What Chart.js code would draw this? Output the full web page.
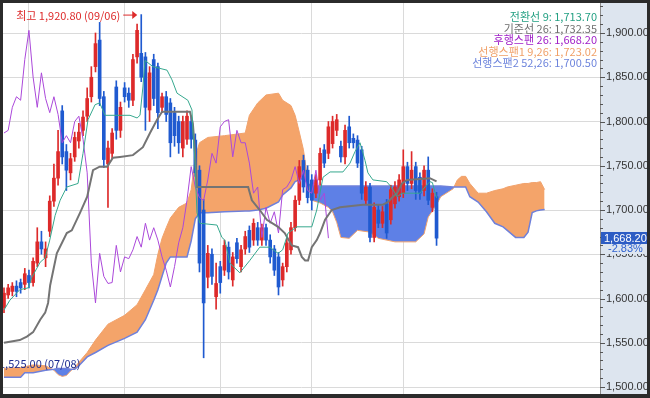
<!DOCTYPE html>
<html>
<head>
<meta charset="utf-8">
<script src="https://cdn.jsdelivr.net/npm/chart.js@4.4.1/dist/chart.umd.min.js"></script>
<style>
  html, body { margin: 0; padding: 0; width: 650px; height: 398px; overflow: hidden; background: #2b2b2b; }
  #wrap { position: absolute; left: 3px; top: 3px; width: 644px; height: 391px; background: #fff; }
</style>
</head>
<body>
<div id="wrap"><canvas id="ichimoku"></canvas></div>
<script>
// daily candles (index 0 = first visible session)
const opens = [1590,1604,1608,1614,1618,1616,1626,1618,1640,1664, 1646,1676,1710,1736,1812,1766,1742,1760,1778,1790,
  1806,1828,1862,1892,1828,1752,1764,1839,1790,1838, 1832,1824,1873,1877,1873,1813,1870,1862,1816,1828,
  1821,1810,1800,1770,1780,1800,1779,1745,1700,1624, 1650,1602,1636,1632,1658,1621,1663,1636,1656,1677,
  1666,1680,1666,1680,1666,1656,1647,1621,1636,1655, 1680,1711,1756,1745,1734,1719,1734,1768,1764,1775,
  1790,1772,1760,1794,1781,1779,1768,1711,1726,1669, 1700,1685,1707,1689,1707,1715,1719,1749,1730,1749,
  1737,1722,1745,1703,1715];
const highs = [1612,1616,1618,1620,1622,1634,1632,1646,1680,1676, 1664,1716,1752,1790,1818,1774,1764,1788,1798,1812,
  1838,1862,1900,1912,1834,1778,1792,1846,1822,1844, 1838,1876,1910,1920.8,1878,1862,1876,1866,1832,1834,
  1826,1816,1806,1806,1812,1806,1786,1750,1712,1660, 1656,1640,1642,1666,1664,1652,1668,1660,1676,1682,
  1690,1686,1684,1684,1672,1660,1652,1640,1668,1686, 1716,1756,1762,1750,1740,1740,1770,1774,1800,1806,
  1808,1778,1796,1806,1786,1784,1772,1732,1730,1708, 1706,1704,1712,1728,1732,1740,1768,1754,1766,1754,
  1742,1750,1760,1724,1720];
const lows = [1584,1600,1603,1602,1606,1610,1612,1614,1636,1650, 1636,1670,1704,1728,1752,1722,1734,1755,1770,1784,
  1800,1822,1856,1818,1748,1703,1758,1780,1782,1822, 1816,1818,1866,1845,1790,1800,1818,1792,1810,1800,
  1760,1772,1764,1760,1774,1770,1738,1630,1533,1612, 1616,1588,1606,1626,1622,1614,1640,1630,1650,1652,
  1660,1660,1660,1660,1640,1626,1604,1614,1630,1650, 1676,1706,1720,1708,1700,1714,1728,1748,1758,1770,
  1784,1754,1752,1770,1770,1748,1712,1706,1664,1664, 1680,1680,1668,1684,1702,1710,1714,1722,1724,1712,
  1712,1716,1706,1698,1660];
const closes = [1606,1612,1614,1608,1612,1628,1618,1642,1664,1656, 1656,1710,1736,1766,1760,1745,1758,1782,1788,1805,
  1826,1850,1888,1826,1757,1770,1787,1790,1816,1828, 1824,1870,1903,1850,1816,1855,1826,1810,1828,1808,
  1776,1784,1776,1800,1806,1780,1742,1640,1595,1651, 1625,1617,1618,1660,1630,1647,1645,1655,1670,1658,
  1685,1666,1680,1666,1647,1632,1613,1636,1663,1680, 1711,1749,1726,1714,1711,1734,1764,1753,1794,1800,
  1802,1760,1790,1776,1776,1753,1719,1726,1669,1703, 1685,1698,1674,1723,1726,1734,1749,1730,1745,1722,
  1719,1745,1711,1719,1668.2];

// 후행스팬 (drawn from index 0)
const lagging = [1787,1790,1816,1828,1824,1870,1903,1850,1816,1855, 1826,1810,1828,1808,1776,1784,1776,1800,1806,1780,
  1742,1640,1595,1651,1625,1617,1618,1660,1630,1647, 1645,1655,1670,1658,1685,1666,1680,1666,1647,1632,
  1613,1636,1663,1680,1711,1749,1726,1714,1711,1734, 1764,1753,1794,1800,1802,1760,1790,1776,1776,1753,
  1719,1726,1669,1703,1685,1698,1674,1723,1726,1734, 1749,1730,1745,1722,1719,1745,1711,1719,1668.2];

// 전환선 / 기준선 as [session index, value]
const tenkan = [[0,1587],[1.4,1598],[3.8,1610],[5.8,1612],[6.7,1624],[8.7,1641],[9.9,1646],[11,1666],[12.3,1694],
  [13.5,1711],[15.1,1726],[17.8,1730],[19,1764],[20.2,1802],[21.9,1819],[23,1821],[24.3,1807],[30.3,1807],[32,1804],
  [32.7,1807],[33.4,1839],[33.9,1869],[35.8,1862],[39.2,1858],[40.4,1847],[41.6,1832],[44.2,1824],[45.2,1813],
  [45.4,1790],[45.9,1756],[46.4,1697],[47.1,1685],[51.2,1683],[52.4,1669],[53.1,1666],[54.3,1640],[56.7,1629],
  [59.1,1643],[61.5,1658],[63.9,1658],[65.9,1651],[67,1655],[68.3,1674],[70.4,1681],[74,1681],[75.2,1700],
  [76.7,1737],[78.4,1743],[81.5,1743],[83.2,1753],[84.4,1766],[85.6,1776],[86.8,1756],[87.5,1742],[88.7,1734],
  [92,1732],[93.3,1725],[94.5,1715],[95.7,1719],[100,1719],[101.2,1726],[102.4,1732],[103,1731],[104,1713.7]];
const kijun = [[0,1550],[3.8,1553],[5.5,1557],[7,1562],[8.7,1576],[9.9,1584],[10.6,1595],[11.1,1615],[12.7,1651],
  [15.1,1674],[16.3,1677],[18.3,1697],[20,1715],[21.4,1745],[23,1749],[24.8,1749],[26.2,1759],[27.9,1760],[31,1762],
  [33.4,1771],[35.1,1787],[36.8,1802],[38,1811],[44.7,1811],[45.4,1798],[45.9,1768],[46.4,1726],[58.7,1726],
  [59.6,1711],[61.5,1700],[63.2,1689],[65.9,1681],[67.5,1674],[69.2,1660],[70.7,1658],[71.6,1647],[72.4,1643],
  [73.1,1643],[74,1658],[75.2,1666],[76,1674],[77.2,1689],[78.8,1700],[80.8,1703],[86.3,1706],[91.1,1706],
  [92.3,1709],[93.5,1715],[94.5,1719],[95.7,1730],[96.9,1734],[102.4,1736],[104,1732.35]];

// 선행스팬1 / 선행스팬2 (cloud), sampled at the same session indexes
const cloudIdx = [0,4,5,7,10,12,13,14,15,16,17,18,20,22,25,29,32,34,36,37,38,39,40,42,44,45,46,47,49,53,58,59,61,63,66,
  67,69,70,71,72,73,74,76,78,79,80,81,83,85,88,90,94,99,101,102,104,105,108,109,110,111,112,114,116,118,120,121,123,
  125,126,127,128,129,130];
const spanA = [1521,1522,1523,1525,1524,1519,1514,1512,1513,1518,1522,1528,1539,1553,1571,1581,1593,1610,1627,1650,
  1668,1680,1691,1703,1708,1723,1760,1776,1782,1784,1787,1807,1821,1830,1832,1824,1818,1807,1788,1768,1735,1711,1708,
  1703,1698,1686,1669,1668,1677,1675,1668,1664,1664,1673,1692,1706,1715,1724,1734,1738,1738,1730,1719,1719,1722,1724,
  1726,1728,1730,1730,1731,1731,1732,1723.02];
const spanB = [1511,1511,1516,1516,1519,1520,1521,1521,1521,1520,1520,1524,1534,1539,1547,1555,1562,1576,1598,1610,
  1625,1640,1647,1647,1647,1665,1690,1697,1697,1698,1699,1699,1700,1702,1709,1717,1725,1732,1734,1736,1730,1727,1727,
  1727,1727,1727,1727,1727,1727,1727,1727,1727,1727,1727,1727,1727,1727,1726,1726,1726,1726,1715,1709,1698,1685,1681,
  1677,1669,1669,1675,1697,1699,1700,1700.5];

const priceTicks = [1500, 1550, 1600, 1650, 1700, 1750, 1800, 1850, 1900];
const monthStarts = [6, 29, 52, 74, 96];
const legendRows = [
  ['전환선 9: 1,713.70', '#24a083'],
  ['기준선 26: 1,732.35', '#6e6e6e'],
  ['후행스팬 26: 1,668.20', '#a020c8'],
  ['선행스팬1 9,26: 1,723.02', '#f0a068'],
  ['선행스팬2 52,26: 1,700.50', '#6d84dc']
];
const highNote = '최고 1,920.80 (09/06)';
const lowNote = '1,525.00 (07/08)';
const lowValue = 1525;
const changeText = '-2.83%';

const RED = '#dd2a2a', BLUE = '#1f5ad0';
const ORANGE_FILL = '#f4a46a', BLUE_FILL = '#5e80e6';
const KR = '"Noto Sans CJK KR", sans-serif';
const fmt = v => v.toLocaleString('en-US', { minimumFractionDigits: 2, maximumFractionDigits: 2 });

const idx = closes.map((_, i) => i);
const candleColor = idx.map(i => closes[i] >= opens[i] ? RED : BLUE);
const pairs = list => list.map(p => ({ x: p[0], y: p[1] }));

const decor = {
  id: 'decor',
  beforeDraw(chart) {
    const { ctx, chartArea: a, width, height } = chart;
    ctx.save();
    ctx.fillStyle = '#dde5ef';
    ctx.fillRect(a.right, 0, width - a.right, height);
    ctx.restore();
  },
  afterDraw(chart) {
    const { ctx, chartArea: a, scales: { x, y } } = chart;
    ctx.save();
    ctx.strokeStyle = '#8c8c8c';
    ctx.lineWidth = 1;
    ctx.beginPath();
    ctx.moveTo(a.right + 0.5, a.top);
    ctx.lineTo(a.right + 0.5, a.bottom);
    ctx.stroke();

    // minor / major ticks on price axis
    ctx.strokeStyle = '#555';
    for (let v = Math.ceil(y.min / 10) * 10; v <= y.max; v += 10) {
      const py = Math.round(y.getPixelForValue(v)) + 0.5;
      const len = v % 50 === 0 ? 5 : 3;
      ctx.beginPath();
      ctx.moveTo(a.right, py);
      ctx.lineTo(a.right + len, py);
      ctx.stroke();
    }

    // legend (top right)
    ctx.font = '11px ' + KR;
    ctx.textAlign = 'right';
    ctx.textBaseline = 'middle';
    legendRows.forEach((r, k) => {
      ctx.fillStyle = r[1];
      ctx.fillText(r[0], a.right - 3, 14 + k * 11.5);
    });

    // highest price note
    const hi = Math.max(...highs);
    const hx = x.getPixelForValue(highs.indexOf(hi));
    const hy = y.getPixelForValue(hi);
    ctx.fillStyle = RED;
    ctx.strokeStyle = RED;
    ctx.fillText(highNote, hx - 21, hy + 1);
    ctx.beginPath();
    ctx.moveTo(hx - 18, hy + 0.5);
    ctx.lineTo(hx - 7, hy + 0.5);
    ctx.stroke();
    ctx.beginPath();
    ctx.moveTo(hx - 4, hy + 0.5);
    ctx.lineTo(hx - 9, hy - 3.5);
    ctx.lineTo(hx - 9, hy + 4.5);
    ctx.closePath();
    ctx.fill();

    // lowest price note (starts left of the visible window)
    ctx.textAlign = 'left';
    ctx.fillStyle = '#1c2c90';
    ctx.fillText(lowNote, x.getPixelForValue(-1.2), y.getPixelForValue(lowValue) - 1);

    // current price box
    const last = closes[closes.length - 1];
    const ly = Math.round(y.getPixelForValue(last));
    ctx.fillStyle = '#2c5cc4';
    ctx.fillRect(a.right + 1, ly - 6, chart.width - a.right - 1, 12);
    ctx.fillStyle = '#fff';
    ctx.font = '11px "Liberation Sans", sans-serif';
    ctx.fillText(fmt(last), a.right + 4, ly + 0.5);
    ctx.fillStyle = '#dde5ef';
    ctx.fillRect(a.right + 6, ly + 6, chart.width - a.right - 6, 10);
    ctx.fillStyle = '#2f62d0';
    ctx.fillText(changeText, a.right + 8, ly + 11);
    ctx.restore();
  }
};

new Chart(document.getElementById('ichimoku').getContext('2d'), {
  type: 'line',
  data: {
    datasets: [
      {
        label: '선행스팬1',
        data: cloudIdx.map((v, k) => ({ x: v, y: spanA[k] })),
        borderColor: '#f1a26c',
        borderWidth: 1,
        pointRadius: 0,
        fill: { target: 1, above: ORANGE_FILL, below: BLUE_FILL },
        order: 10
      },
      {
        label: '선행스팬2',
        data: cloudIdx.map((v, k) => ({ x: v, y: spanB[k] })),
        borderColor: '#6f80da',
        borderWidth: 1.5,
        pointRadius: 0,
        fill: false,
        order: 9
      },
      {
        type: 'bar',
        label: 'wick',
        data: idx.map(i => ({ x: i, y: [lows[i], highs[i]] })),
        backgroundColor: candleColor,
        barThickness: 1,
        grouped: false,
        order: 6
      },
      {
        type: 'bar',
        label: 'body',
        data: idx.map(i => ({ x: i, y: [Math.min(opens[i], closes[i]), Math.max(opens[i], closes[i])] })),
        backgroundColor: candleColor,
        barThickness: 3,
        grouped: false,
        order: 5
      },
      {
        label: '후행스팬',
        data: lagging.map((v, i) => ({ x: i, y: v })),
        borderColor: '#ab48da',
        borderWidth: 1,
        pointRadius: 0,
        order: 3
      },
      {
        label: '기준선',
        data: pairs(kijun),
        borderColor: '#747474',
        borderWidth: 2,
        pointRadius: 0,
        order: 2
      },
      {
        label: '전환선',
        data: pairs(tenkan),
        borderColor: '#36a88e',
        borderWidth: 1,
        pointRadius: 0,
        order: 1
      }
    ]
  },
  options: {
    responsive: true,
    maintainAspectRatio: false,
    animation: false,
    events: [],
    layout: { padding: 0 },
    plugins: {
      legend: { display: false },
      tooltip: { enabled: false },
      filler: { drawTime: 'beforeDatasetsDraw' }
    },
    scales: {
      x: {
        type: 'linear',
        min: -0.24,
        max: 143.3,
        offset: false,
        afterBuildTicks: s => { s.ticks = monthStarts.map(v => ({ value: v })); },
        afterFit: s => { s.height = 0; s.paddingLeft = 0; s.paddingRight = 0; },
        ticks: { display: false },
        border: { display: false },
        grid: { color: '#dadada', drawTicks: false, offset: false }
      },
      y: {
        position: 'right',
        min: 1492.1,
        max: 1933.9,
        afterBuildTicks: s => { s.ticks = priceTicks.map(v => ({ value: v })); },
        afterFit: s => { s.width = 47; s.paddingTop = 0; s.paddingBottom = 0; },
        border: { display: false },
        grid: { color: '#dadada', drawTicks: false },
        ticks: {
          padding: 6,
          color: '#333',
          font: { family: '"Liberation Sans", sans-serif', size: 11 },
          callback: v => fmt(v)
        }
      }
    }
  },
  plugins: [decor]
});
</script>
</body>
</html>
